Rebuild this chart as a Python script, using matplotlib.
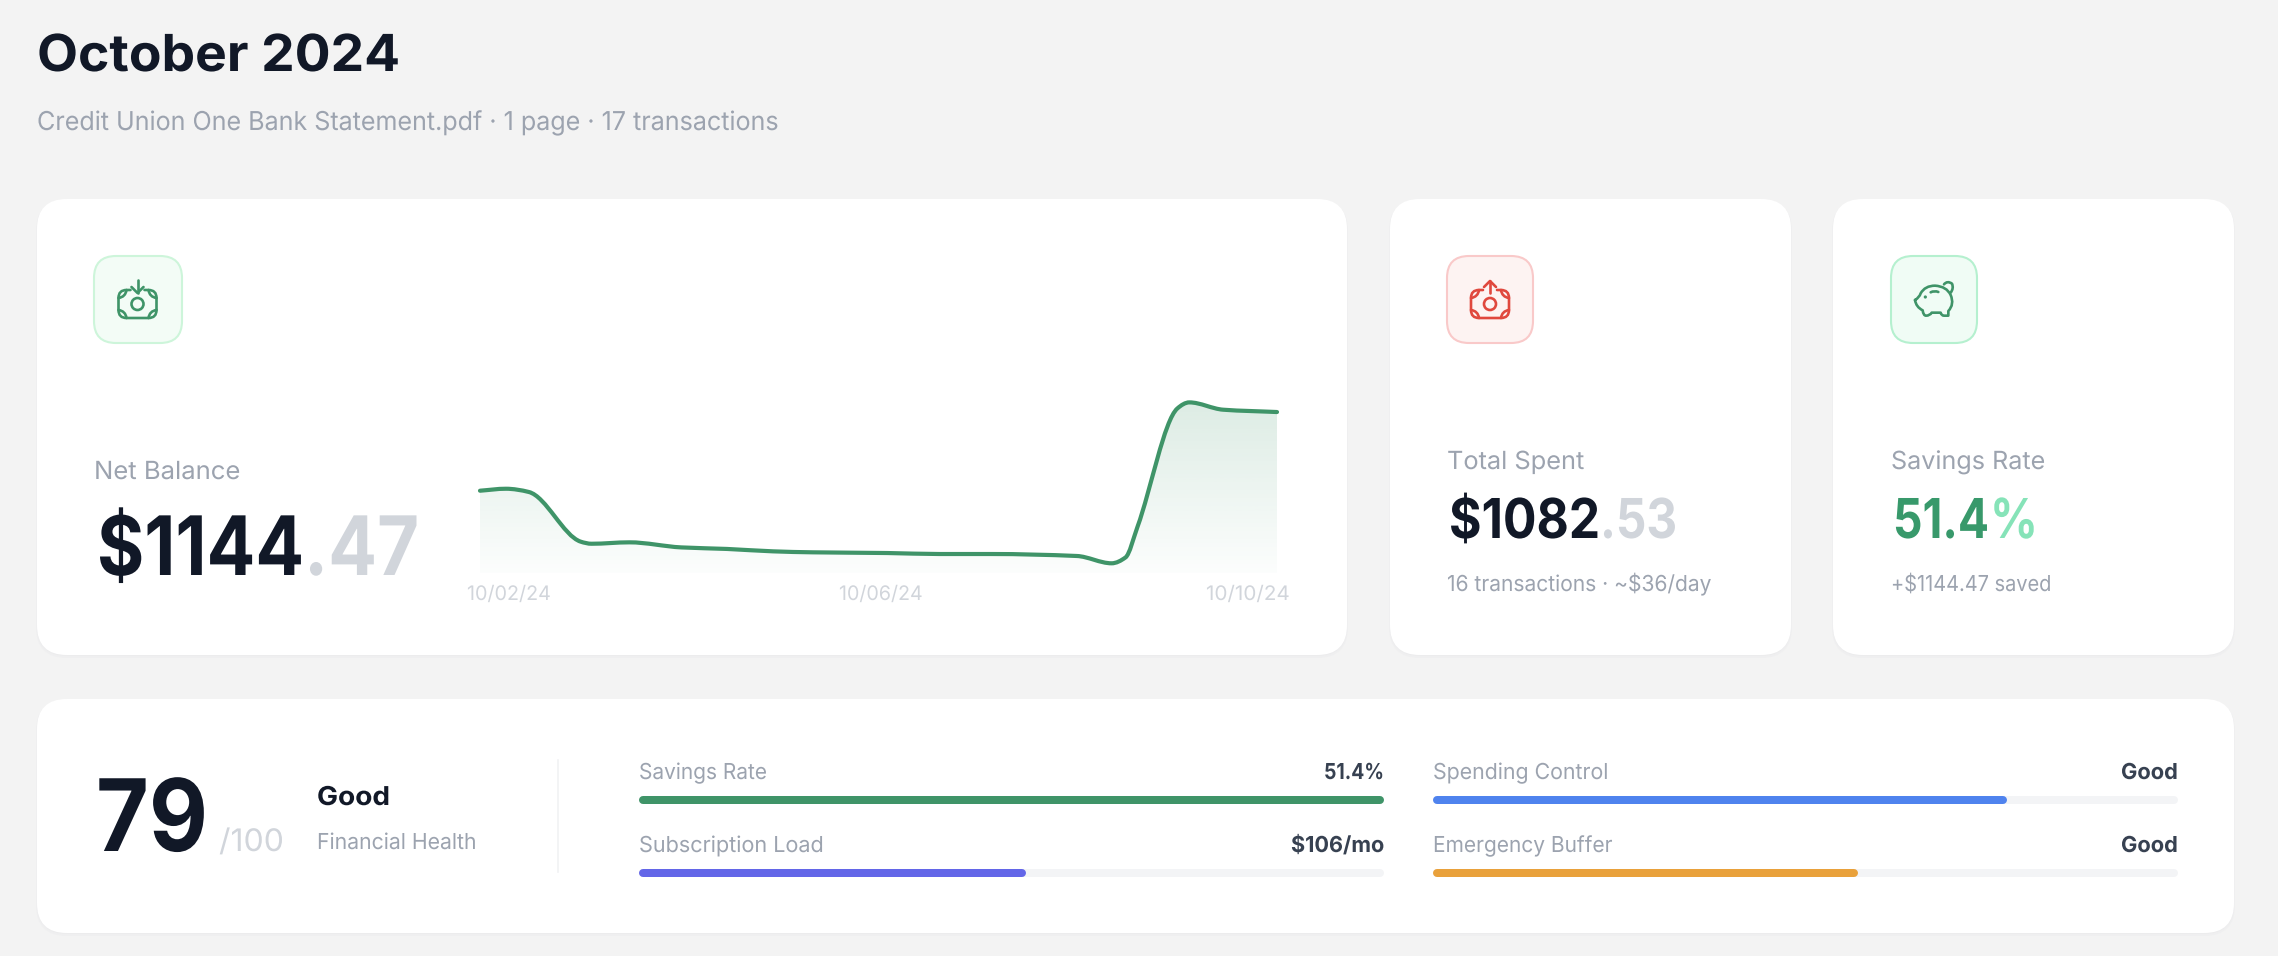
"""Recreates the October 2024 statement dashboard. Overlay axes works in image pixels."""
import matplotlib
matplotlib.use("Agg")
import matplotlib.pyplot as plt
import numpy as np
from matplotlib.patches import FancyBboxPatch, PathPatch, Circle
from matplotlib.path import Path
from matplotlib.patheffects import AbstractPathEffect
from matplotlib.transforms import Affine2D

W, H, DPI = 2278, 956, 100
FONT = "Inter"
INK, GREY, PALE, VALUE_INK = "#111827", "#9CA3AF", "#D1D5DB", "#374151"
BG = "#F3F3F3"
LINE_GREEN = "#3F9468"

# balance curve: day of October vs running balance
BAL_DAYS = [2.00, 2.26, 2.49, 3.01, 3.12, 3.50, 4.02, 4.48, 4.94, 5.34, 6.09,
            6.61, 7.13, 7.99, 8.34, 8.48, 8.60, 9.00, 9.12, 9.46, 10.00]
BAL_VALUES = [585, 599, 576, 223, 208, 218, 182, 171, 154, 147, 142,
              135, 135, 121, 69, 111, 329, 1170, 1213, 1161, 1144.47]
BAL_TICKS = ["10/02/24", "10/06/24", "10/10/24"]

METER_LABELS = ["Savings Rate", "Subscription Load", "Spending Control", "Emergency Buffer"]
METER_VALUES = [100, 52, 77, 57]
METER_TEXT = ["51.4%", "$106/mo", "Good", "Good"]
METER_COLORS = ["#3F9468", "#6366E8", "#4F83EE", "#E9A13B"]
METER_LABEL_W = [128, 185, 176, 180]
METER_TEXT_W = [60, 93, 57, 57]


def px(size):
    return size * 72 / DPI


class Squeeze(AbstractPathEffect):
    """Stretch glyphs sideways about a fixed x, the installed fonts run wider than the original."""

    def __init__(self, anchor, sx):
        super().__init__()
        self.anchor, self.sx = anchor, sx

    def draw_path(self, renderer, gc, tpath, affine, rgbFace=None):
        a = affine + Affine2D().translate(-self.anchor, 0).scale(self.sx, 1).translate(self.anchor, 0)
        renderer.draw_path(gc, tpath, a, rgbFace)


fig = plt.figure(figsize=(W / DPI, H / DPI), dpi=DPI, facecolor=BG)
ov = fig.add_axes([0, 0, 1, 1])
ov.set_xlim(0, W)
ov.set_ylim(H, 0)
ov.axis("off")
rend = fig.canvas.get_renderer()


def txt(x, y, s, size, color=GREY, weight="normal", ha="left", fit=None):
    t = ov.text(x, y, s, fontsize=px(size), color=color, fontweight=weight, ha=ha,
                va="baseline", family=FONT, zorder=5)
    if fit:
        t.set_path_effects([Squeeze(x, fit / t.get_window_extent(rend).width)])
    return t


def box(x0, y0, x1, y1, r, face, edge, lw, z=2):
    ov.add_patch(FancyBboxPatch((x0, y0), x1 - x0, y1 - y0, boxstyle=f"round,pad=0,rounding_size={r}",
                                fc=face, ec=edge, lw=lw, zorder=z))


def stroke(verts, codes, color):
    ov.add_patch(PathPatch(Path(verts, codes), fc="none", ec=color, lw=1.9, zorder=4,
                           capstyle="round", joinstyle="round"))


def money_icon(cx, cy, color, up):
    M, L, Q = Path.MOVETO, Path.LINETO, Path.CURVE3
    # body outline, gap at the top for the arrow
    v = [(-7, -14), (-11, -14), (-19, -14), (-19, -6), (-19, 6), (-19, 14), (-11, 14),
         (11, 14), (19, 14), (19, 6), (19, -6), (19, -14), (11, -14), (7, -14)]
    c = [M, L, Q, Q, L, Q, Q, L, Q, Q, L, Q, Q, L]
    stroke([(cx + a, cy + b) for a, b in v], c, color)
    # thin leaf in each corner
    for sx, sy in [(-1, -1), (1, -1), (-1, 1), (1, 1)]:
        stroke([(cx + sx * 19, cy + sy * 6), (cx + sx * 12, cy + sy * 7), (cx + sx * 11, cy + sy * 14)],
               [M, Q, Q], color)
    ov.add_patch(Circle((cx, cy), 6, fc="none", ec=color, lw=1.9, zorder=4))
    if up:
        stroke([(cx, cy - 11), (cx, cy - 23)], [M, L], color)
        stroke([(cx - 6, cy - 17), (cx, cy - 23), (cx + 6, cy - 17)], [M, L, L], color)
    else:
        stroke([(cx, cy - 24), (cx, cy - 11)], [M, L], color)
        stroke([(cx - 6, cy - 17), (cx, cy - 11), (cx + 6, cy - 17)], [M, L, L], color)


def pig_icon(ox, oy, color):
    M, L, Q = Path.MOVETO, Path.LINETO, Path.CURVE3
    pts = [(105, 165), (118, 158), (122, 145), (135, 122), (165, 122), (200, 124), (212, 150),
           (224, 178), (205, 198), (205, 212), (192, 212), (184, 212), (182, 203), (155, 203),
           (150, 212), (138, 212), (130, 212), (128, 196), (108, 186), (105, 165)]
    codes = [M, Q, Q, Q, Q, Q, Q, Q, Q, L, L, Q, Q, L, Q, Q, Q, Q, Q, Q]
    stroke([(ox + a / 3, oy + b / 3) for a, b in pts], codes, color)
    tail = [(192, 118), (202, 106), (216, 116), (222, 130), (212, 143)]
    stroke([(ox + a / 3, oy + b / 3) for a, b in tail], [M, Q, Q, Q, Q], color)
    stroke([(ox + 152 / 3, oy + 142 / 3), (ox + 163 / 3, oy + 136 / 3), (ox + 175 / 3, oy + 141 / 3)],
           [M, Q, Q], color)
    ov.add_patch(Circle((ox + 136 / 3, oy + 156 / 3), 1.6, fc=color, ec="none", zorder=4))


def monotone_path(xs, ys):
    """Cubic path through the points, same idea as d3 curveMonotoneX."""
    xs, ys = np.asarray(xs, float), np.asarray(ys, float)
    h = np.diff(xs)
    s = np.diff(ys) / h
    m = np.zeros_like(xs)
    m[0], m[-1] = s[0], s[-1]
    for i in range(1, len(xs) - 1):
        if s[i - 1] * s[i] > 0:
            m[i] = 2 * s[i - 1] * s[i] / (s[i - 1] + s[i])
    verts, codes = [(xs[0], ys[0])], [Path.MOVETO]
    for i in range(len(h)):
        verts += [(xs[i] + h[i] / 3, ys[i] + m[i] * h[i] / 3),
                  (xs[i + 1] - h[i] / 3, ys[i + 1] - m[i + 1] * h[i] / 3),
                  (xs[i + 1], ys[i + 1])]
        codes += [Path.CURVE4] * 3
    return verts, codes


# page header
txt(37, 71, "October 2024", 51, INK, "bold", fit=363)
txt(37, 130, "Credit Union One Bank Statement.pdf · 1 page · 17 transactions", 26, fit=742)

# cards, with a faint shadow underneath
for x0, y0, x1, y1 in [(37, 199, 1347, 655), (1390, 199, 1791, 655), (1833, 199, 2234, 655), (37, 699, 2234, 933)]:
    box(x0 - 1, y0 + 1, x1 + 1, y1 + 3, 31, "#EFEFF0", "none", 0)
    box(x0, y0 + 1, x1, y1 + 1, 30, "#ECECED", "none", 0)
    box(x0, y0, x1, y1, 30, "white", "none", 0)

box(94, 256, 182, 343, 22, "#F3FCF6", "#CDF5DA", 1.5)
box(1447, 256, 1533, 343, 22, "#FDF3F2", "#F9C9C9", 1.5)
box(1891, 256, 1977, 343, 22, "#F0FCF5", "#B5F0CF", 1.5)
money_icon(137.5, 304, "#3F9468", False)
money_icon(1490, 304, "#E0483E", True)
pig_icon(1880, 245, "#3F9468")

# net balance card
txt(94, 479, "Net Balance", 25, fit=146)
txt(304, 575, "$1144", 82, INK, "bold", ha="right", fit=207)
txt(304, 575, ".47", 82, PALE, "bold", fit=115)

chart = fig.add_axes([480 / W, 1 - 573 / H, (1277 - 480) / W, 173 / H])
chart.set_xlim(2, 10)
chart.set_ylim(0, 1230)
chart.axis("off")
verts, codes = monotone_path(BAL_DAYS, BAL_VALUES)
area = Path(verts + [(10, 0), (2, 0), (2, BAL_VALUES[0])], codes + [Path.LINETO] * 3)
clip = PathPatch(area, fc="none", ec="none", transform=chart.transData)
chart.add_patch(clip)
grad = np.zeros((256, 1, 4))
grad[..., :3] = matplotlib.colors.to_rgb(LINE_GREEN)
grad[..., 3] = np.linspace(0.18, 0.015, 256)[:, None]
im = chart.imshow(grad, extent=(2, 10, 0, 1230), origin="upper", aspect="auto", zorder=1)
im.set_clip_path(clip)
line = PathPatch(Path(verts, codes), fc="none", ec=LINE_GREEN, lw=3.0, zorder=3, capstyle="round", clip_on=False)
chart.add_patch(line)
chart.set_xlim(2, 10)
chart.set_ylim(0, 1230)
for tx, label, ha in zip([467, 881, 1290], BAL_TICKS, ["left", "center", "right"]):
    txt(tx, 600, label, 20, PALE, ha=ha, fit=84)

# total spent card
txt(1447, 469, "Total Spent", 25, fit=137)
txt(1600, 538, "$1082", 55, INK, "bold", ha="right", fit=151)
txt(1600, 538, ".53", 55, PALE, "bold", fit=77)
txt(1447, 591, "16 transactions · ~$36/day", 22, fit=264)

# savings card
txt(1891, 469, "Savings Rate", 25, fit=154)
txt(1989, 538, "51.4", 55, "#38996B", "bold", ha="right", fit=96)
txt(1990, 538, "%", 55, "#86E3B8", "bold", fit=48)
txt(1891, 591, "+$1144.47 saved", 22, fit=160)

# health score
txt(208, 851, "79", 100, INK, "bold", ha="right", fit=112)
txt(219, 851, "/100", 31, PALE, fit=65)
txt(317, 805, "Good", 26, INK, "bold", fit=73)
txt(317, 849, "Financial Health", 22, fit=160)
ov.plot([558, 558], [760, 872], color="#F1F2F4", lw=1.2, zorder=3)

# meters
meter_x = [639, 639, 1433, 1433]
meter_y = [796, 869, 796, 869]
for x0, y0, name, val, label, col, name_w, text_w in zip(meter_x, meter_y, METER_LABELS, METER_VALUES,
                                                         METER_TEXT, METER_COLORS, METER_LABEL_W, METER_TEXT_W):
    width = 745
    ax = fig.add_axes([x0 / W, 1 - (y0 + 8) / H, width / W, 8 / H])
    ax.set_xlim(0, 100)
    ax.set_ylim(0, 1)
    ax.axis("off")
    r = 4 / width * 100
    ax.plot([r, 100 - r], [0.5, 0.5], color="#F3F4F6", lw=px(8), solid_capstyle="round", clip_on=False)
    ax.plot([r, val - r], [0.5, 0.5], color=col, lw=px(8), solid_capstyle="round", clip_on=False)
    txt(x0, y0 - 17, name, 22, fit=name_w)
    txt(x0 + width, y0 - 17, label, 22, VALUE_INK, "bold", ha="right", fit=text_w)

fig.savefig("out.png", dpi=DPI, facecolor=BG)
